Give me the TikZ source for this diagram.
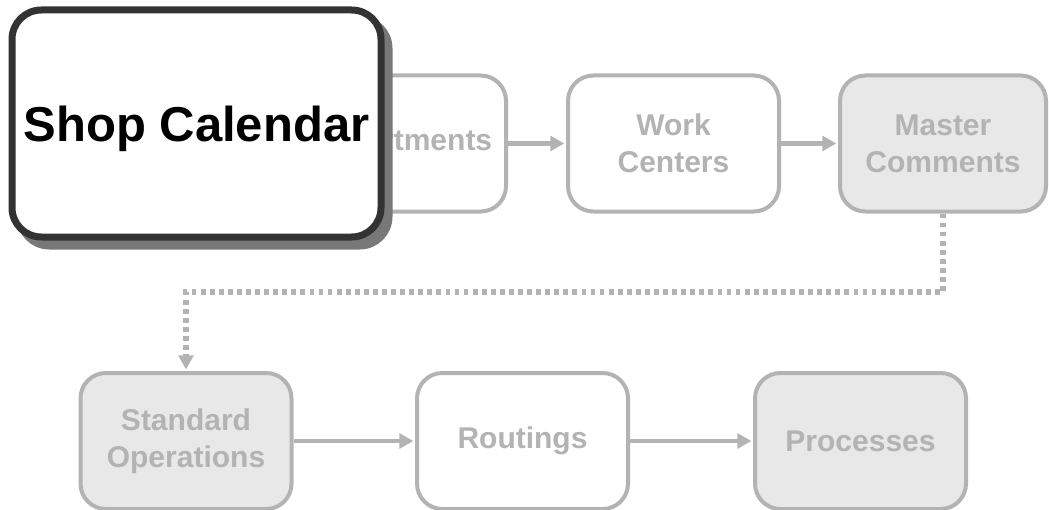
\documentclass[tikz,border=0pt]{standalone}
\usepackage{fontspec}
\setmainfont{Liberation Sans}
\usetikzlibrary{arrows.meta,shadows}

\definecolor{boxgray}{HTML}{B3B3B3}
\definecolor{boxfill}{HTML}{E8E8E8}
\definecolor{darkedge}{HTML}{333333}
\definecolor{shadowgray}{HTML}{787878}

\tikzset{
  stage/.style={draw=boxgray, line width=3pt, rounded corners=19pt, fill=white,
    minimum width=158.25pt, minimum height=102pt, inner sep=0pt, align=center,
    text=boxgray, font=\fontsize{22.5pt}{27.75pt}\selectfont\bfseries},
  shaded/.style={fill=boxfill},
  flow/.style={draw=boxgray, line width=3.6pt, shorten >=1.2pt,
    -{Triangle[length=10.5pt,width=11pt]}},
  jump/.style={flow, line width=3.8pt, dash pattern=on 3.6pt off 3.2pt},
  focus/.style={draw=darkedge, line width=5.25pt, rounded corners=22pt, fill=white,
    minimum width=276.75pt, minimum height=170.25pt, inner sep=0pt, align=center,
    text depth=0pt, text=black, font=\fontsize{36.75pt}{44pt}\selectfont\bfseries,
    drop shadow={shadow xshift=6pt, shadow yshift=-6.75pt, fill=shadowgray,
      draw=shadowgray, line width=5.25pt, opacity=1}}
}

\begin{document}
\begin{tikzpicture}[x=0.75pt, y=-0.75pt]
  \useasboundingbox (0,0) rectangle (1049,510);

  % upper row
  \node[stage] (dep) at (400.5,143.5) {Departments};
  \node[stage] (wc)  at (673.5,143.5) {Work\\Centers};
  \node[stage, shaded, minimum width=154.5pt] (mc) at (943,143.5) {Master\\Comments};

  % lower row
  \node[stage, shaded] (so) at (186,441) {Standard\\Operations};
  \node[stage]         (rt) at (522.5,441) {Routings};
  \node[stage, shaded] (pr) at (860.5,441) {Processes};

  % connectors
  \draw[flow] (dep) -- (wc);
  \draw[flow] (wc) -- (mc);
  \draw[flow] (so) -- (rt);
  \draw[flow] (rt) -- (pr);
  \coordinate (turn) at (0,292);
  \draw[jump] (mc.south) -- (mc.south |- turn) -| (so.north);

  % highlighted step on top
  \node[focus] (cal) at (196.5,123.5) {Shop Calendar};
\end{tikzpicture}
\end{document}
